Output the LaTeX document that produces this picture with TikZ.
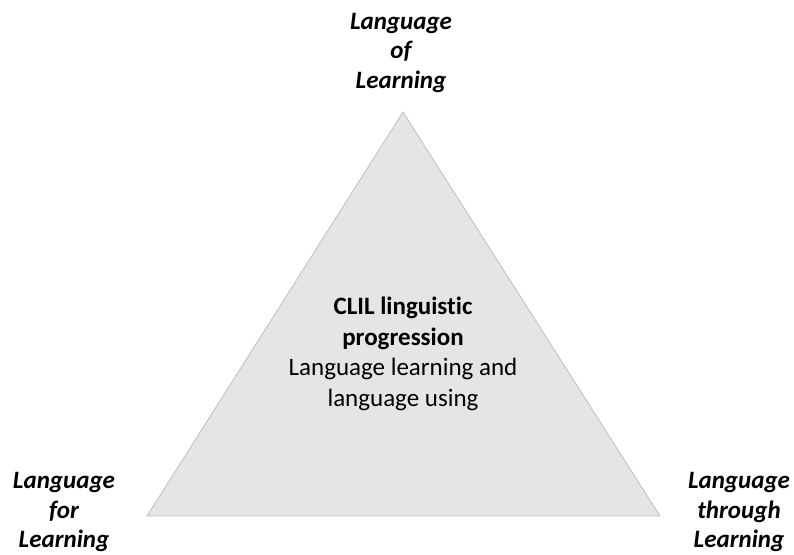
\documentclass[tikz,border=0pt]{standalone}
\usepackage{fontspec}
\setmainfont{Carlito}[Ligatures=NoCommon]
\begin{document}
\begin{tikzpicture}[x=1pt,y=1pt]
			\tikzstyle{corner}=[align=center,inner sep=0pt,font=\fontsize{25}{29.5}\selectfont\bfseries\itshape]
			\tikzstyle{middle}=[align=center,inner sep=0pt,font=\fontsize{25}{30.5}\selectfont]
			\useasboundingbox (0,0) rectangle (794,554);
			\coordinate (v_1) at (403,442);
			\coordinate (v_2) at (147,38);
			\coordinate (v_3) at (660,38);
			\draw[fill=black!10,draw=black!25,line width=0.8pt] (v_1) -- (v_2) -- (v_3) -- cycle;
			\node[corner] (l_1) at (401,501) {Language\\of\\Learning};
			\node[corner] (l_2) at (64,42) {Language\\for\\Learning};
			\node[corner] (l_3) at (739,42) {Language\\through\\Learning};
			\node[middle] (c) at (403,200) {\textbf{CLIL linguistic}\\\textbf{progression}\\Language learning and\\language using};
		\end{tikzpicture}
\end{document}
